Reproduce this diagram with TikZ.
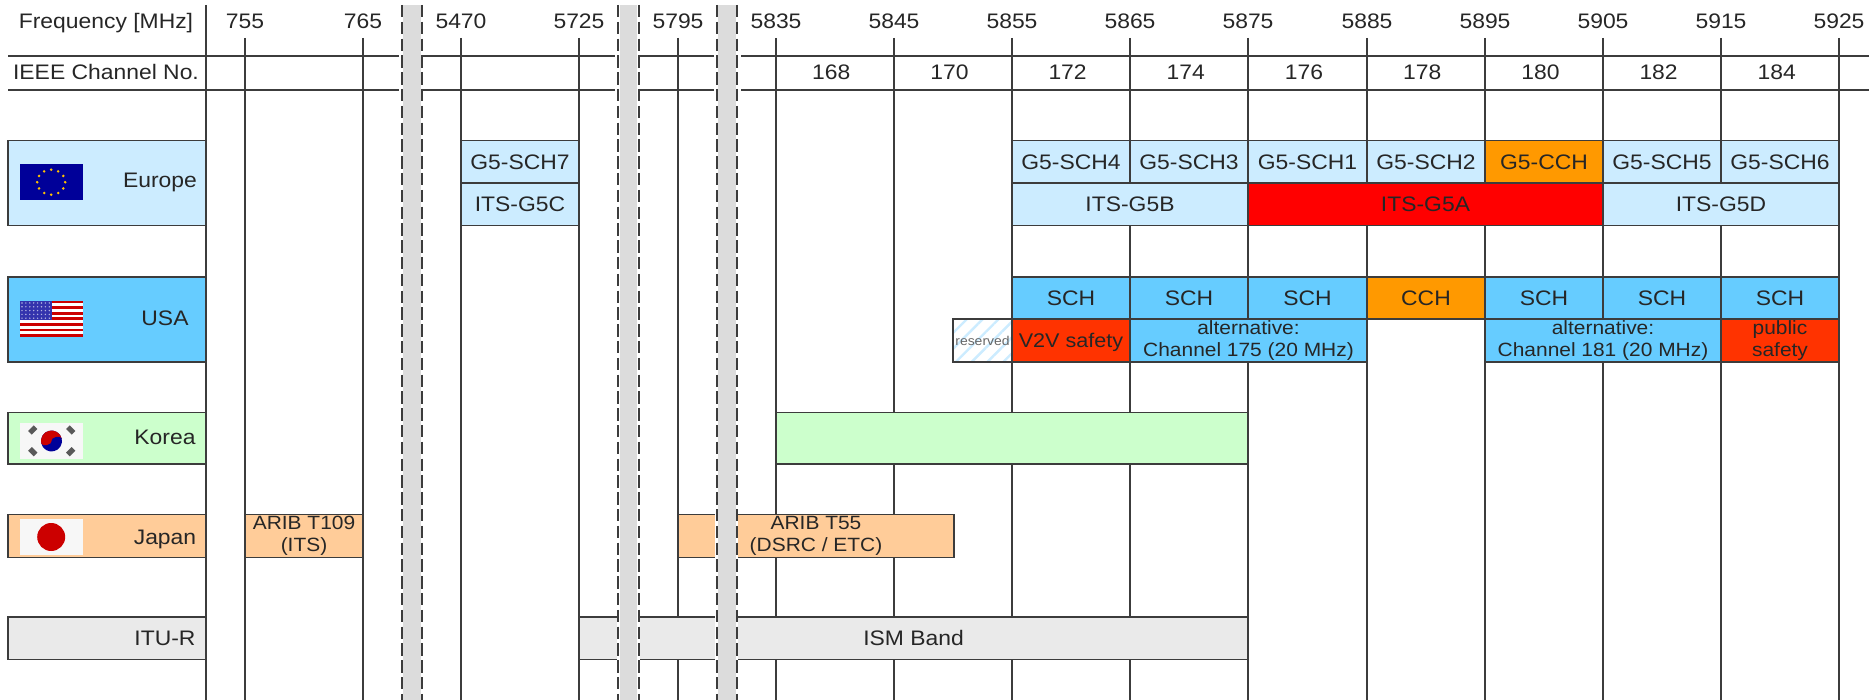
\documentclass[tikz,border=0pt]{standalone}
\usepackage{fontspec}
\setmainfont[FakeStretch=1.09]{Liberation Sans}
\usetikzlibrary{patterns.meta}
\definecolor{euroC}{HTML}{CCECFF}
\definecolor{usaC}{HTML}{66CCFF}
\definecolor{koreaC}{HTML}{CCFFCC}
\definecolor{japanC}{HTML}{FFCC99}
\definecolor{ituC}{HTML}{EAEAEA}
\definecolor{cchC}{HTML}{FF9900}
\definecolor{safeC}{HTML}{FF3300}
\definecolor{barC}{HTML}{DCDCDC}
\definecolor{lineaC}{HTML}{3C3C3C}
\definecolor{flagB}{HTML}{000099}
\definecolor{flagR}{HTML}{CC0000}
\definecolor{flagW}{HTML}{F7F7F7}
\begin{document}
\begin{tikzpicture}[
		x=0.5pt, y=-0.5pt,
		griglia/.style={line width=0.8pt, lineaC},
		bordo/.style={line width=0.8pt, draw=lineaC},
		testo/.style={font=\fontsize{10.5}{11}\selectfont, text=black!85, inner sep=0pt,
			text height=7.6pt, text depth=0pt},
		due/.style={font=\fontsize{9.6}{10.9}\selectfont, text=black!85, inner sep=0pt, align=center},
		tratto/.style={line width=1pt, lineaC, dash pattern=on 6.2pt off 2.2pt}]
	
	\useasboundingbox (0,0) rectangle (1869,700);
	
	\def\xF{1012}     %% 5855 MHz
	\def\dF{118.2}    %% 10 MHz
	\def\yEa{140.5} \def\yEb{183} \def\yEc{225.5}
	\def\yUa{277} \def\yUb{319} \def\yUc{361.7}
	
	%% nome, x1, y1, x2, y2, colore, testo
	\def\cella#1#2#3#4#5#6#7{%
		\draw[bordo, fill=#6] (#2,#3) rectangle (#4,#5);
		\node[testo] (#1) at ({(#2+#4)/2},{(#3+#5)/2}) {#7};}
	%% come sopra, con due righe di testo
	\def\cellaDue#1#2#3#4#5#6#7{%
		\draw[bordo, fill=#6] (#2,#3) rectangle (#4,#5);
		\node[due] (#1) at ({(#2+#4)/2},{(#3+#5)/2}) {#7};}
	
	%% --- griglia verticale e frequenze ---
	\draw[griglia] (206,5) -- (206,700);
	\foreach \xT/\lab in {245/755, 363/765, 461/5470, 579/5725, 678/5795,
		776/5835, 894/5845, 1012/5855, 1130/5865, 1248/5875,
		1367/5885, 1485/5895, 1603/5905, 1721/5915, 1839/5925}{
		\draw[griglia] (\xT,38) -- (\xT,700);
		\node[testo] (f\lab) at (\xT,21) {\lab};
	}
	\node[testo] (freq) at (106,21) {Frequency [MHz]};
	\node[testo] (ieee) at (106,71.5) {IEEE Channel No.};
	
	%% --- righe orizzontali di intestazione ---
	\foreach \ya in {56,90}{
		\foreach \xa/\xb in {8/398.6, 423/615, 640/713.5, 741/1869}{
			\draw[griglia] (\xa,\ya) -- (\xb,\ya);
		}
	}
	
	%% --- numeri di canale ---
	\foreach \i/\lab in {-2/168, -1/170, 0/172, 1/174, 2/176, 3/178, 4/180, 5/182, 6/184}{
		\pgfmathsetmacro{\xa}{\xF+(\i+0.5)*\dF-3.5}
		\node[testo] (ch\lab) at (\xa,71.5) {\lab};
	}
	
	%% --- Europe ---
	\draw[bordo, fill=euroC] (8,\yEa) rectangle (206,\yEc);
	\node[testo] (europe) at (160,180) {Europe};
	\cella{sch7}{461}{\yEa}{579}{\yEb}{euroC}{G5-SCH7}
	\cella{g5c}{461}{\yEb}{579}{\yEc}{euroC}{ITS-G5C}
	\foreach \i/\lab/\col in {0/G5-SCH4/euroC, 1/G5-SCH3/euroC, 2/G5-SCH1/euroC, 3/G5-SCH2/euroC,
		4/G5-CCH/cchC, 5/G5-SCH5/euroC, 6/G5-SCH6/euroC}{
		\pgfmathsetmacro{\xa}{round(\xF+\i*\dF)}
		\pgfmathsetmacro{\xb}{round(\xF+(\i+1)*\dF)}
		\cella{eu\i}{\xa}{\yEa}{\xb}{\yEb}{\col}{\lab}
	}
	\cella{g5b}{1012}{\yEb}{1248}{\yEc}{euroC}{ITS-G5B}
	\cella{g5a}{1248}{\yEb}{1603}{\yEc}{red}{ITS-G5A}
	\cella{g5d}{1603}{\yEb}{1839}{\yEc}{euroC}{ITS-G5D}
	
	%% --- USA ---
	\draw[bordo, fill=usaC] (8,\yUa) rectangle (206,\yUc);
	\node[testo] (usa) at (165,318) {USA};
	\foreach \i/\lab/\col in {0/SCH/usaC, 1/SCH/usaC, 2/SCH/usaC, 3/CCH/cchC,
		4/SCH/usaC, 5/SCH/usaC, 6/SCH/usaC}{
		\pgfmathsetmacro{\xa}{round(\xF+\i*\dF)}
		\pgfmathsetmacro{\xb}{round(\xF+(\i+1)*\dF)}
		\cella{us\i}{\xa}{\yUa}{\xb}{\yUb}{\col}{\lab}
	}
	\fill[white] (953,\yUb) rectangle (1012,\yUc);
	\fill[pattern={Lines[angle=45,distance=5.6pt,line width=1.2pt]}, pattern color=euroC]
		(953,\yUb) rectangle (1012,\yUc);
	\draw[bordo] (953,\yUb) rectangle (1012,\yUc);
	\node[font=\fontsize{6.4}{7}\selectfont, text=black!60, inner sep=0pt] (reserved) at (982.5,341) {reserved};
	\cella{v2v}{1012}{\yUb}{1130}{\yUc}{safeC}{\fontsize{9.9}{11}\selectfont V2V safety}
	\cellaDue{alt175}{1130}{\yUb}{1367}{\yUc}{usaC}{alternative:\\Channel 175 (20 MHz)}
	\cellaDue{alt181}{1485}{\yUb}{1721}{\yUc}{usaC}{alternative:\\Channel 181 (20 MHz)}
	\cellaDue{public}{1721}{\yUb}{1839}{\yUc}{safeC}{public\\safety}
	
	%% --- Korea ---
	\draw[bordo, fill=koreaC] (8,412.3) rectangle (206,463.7);
	\node[testo] (korea) at (165,437) {Korea};
	\draw[bordo, fill=koreaC] (776,412.3) rectangle (1248,463.7);
	
	%% --- Japan ---
	\draw[bordo, fill=japanC] (8,514.3) rectangle (206,557.3);
	\node[testo] (japan) at (165,536.7) {Japan};
	\cellaDue{t109}{245}{514.3}{363}{557.3}{japanC}{ARIB T109\\(ITS)}
	\cellaDue{t55}{678}{514.3}{954}{557.3}{japanC}{ARIB T55\\(DSRC / ETC)}
	
	%% --- ITU-R ---
	\draw[bordo, fill=ituC] (8,616.7) rectangle (206,659.3);
	\node[testo] (itur) at (165,638) {ITU-R};
	\cella{ism}{579}{616.7}{1248}{659.3}{ituC}{ISM Band}
	
	%% --- bandiera EU ---
	\fill[flagB] (19.8,164) rectangle (82.6,200.3);
	\foreach \a in {0,30,...,330}{
		\fill[cchC!60!yellow] ({51.2+14*cos(\a)},{182.2+12.5*sin(\a)}) circle (1.4);
	}
	
	%% --- bandiera USA ---
	\foreach \i in {0,...,12}{
		\pgfmathsetmacro{\ya}{300.7+\i*2.792}
		\pgfmathsetmacro{\yb}{\ya+2.792}
		\pgfmathparse{int(mod(\i,2))}
		\ifnum\pgfmathresult=0
			\fill[flagR] (19.8,\ya) rectangle (82.6,\yb);
		\else
			\fill[white] (19.8,\ya) rectangle (82.6,\yb);
		\fi
	}
	\fill[flagB!80!white] (19.8,300.7) rectangle (51.7,320.3);
	\foreach \i in {0,...,7}{
		\foreach \j in {0,...,4}{
			\fill[white!70!flagB] ({22+\i*3.9},{303+\j*3.8}) circle (0.8);
		}
	}
	
	%% --- bandiera Korea ---
	\fill[flagW] (19.8,422.7) rectangle (82.6,459);
	\begin{scope}[shift={(51.5,441)}, rotate=14]
		\fill[flagB] (0,0) circle (10.5);
		\fill[flagR] (-10.5,0) arc (180:360:10.5) -- cycle;
		\fill[flagR] (-5.25,0) circle [x radius=5.25, y radius=2.8];
		\fill[flagB] (5.25,0) circle [x radius=5.25, y radius=2.8];
	\end{scope}
	\foreach \xa/\ya/\r in {32.8/430/45, 70.7/430/-45, 32.8/451.7/-45, 70.7/451.7/45}{
		\fill[black!65, rotate around={\r:(\xa,\ya)}] (\xa-4,\ya-2.6) rectangle (\xa+4,\ya+2.6);
	}
	
	%% --- bandiera Japan ---
	\fill[flagW] (19.8,519) rectangle (82.6,555);
	\fill[flagR] (51.2,537) circle (14);
	
	%% --- interruzioni di scala ---
	\foreach \xa/\xb in {402/422, 618.4/638.8, 716.7/737}{
		\fill[barC] (\xa,5) rectangle (\xb,700);
		\draw[line width=1.4pt, white] (\xa,5) -- (\xa,700);
		\draw[line width=1.4pt, white] (\xb,5) -- (\xb,700);
		\draw[tratto] (\xa,5) -- (\xa,700);
		\draw[tratto] (\xb,5) -- (\xb,700);
	}
	
\end{tikzpicture}
\end{document}
